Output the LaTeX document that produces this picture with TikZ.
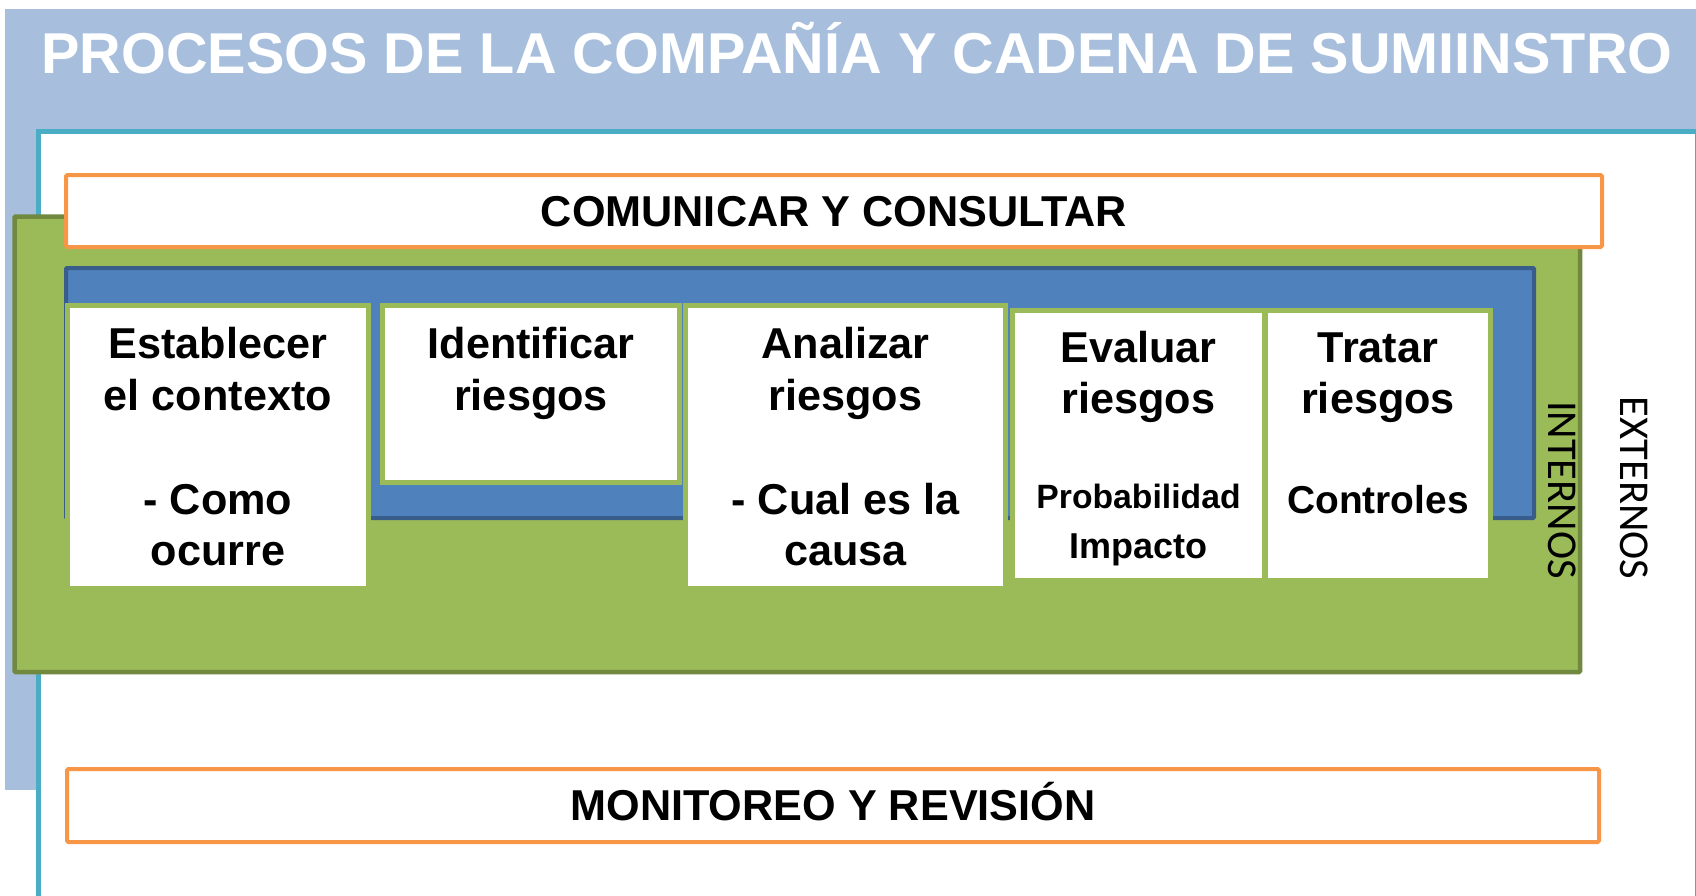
\documentclass[tikz,border=0pt]{standalone}
\usepackage{fontspec}
\setmainfont{Liberation Sans}
\newfontfamily\carlitofont{Carlito}
\definecolor{lightbg}{HTML}{A7BFDD}
\definecolor{tealline}{HTML}{4BACC6}
\definecolor{grfill}{HTML}{9BBB59}
\definecolor{grdark}{HTML}{71893F}
\definecolor{blfill}{HTML}{4F81BD}
\definecolor{bldark}{HTML}{385D8A}
\definecolor{orline}{HTML}{F79646}
\begin{document}
\begin{tikzpicture}[x=1pt,y=-1pt,
  big/.style={anchor=base, inner sep=0pt, font=\bfseries\fontsize{43.2}{50}\selectfont},
  mid/.style={anchor=base, inner sep=0pt, font=\bfseries\fontsize{38.9}{45}\selectfont},
  small/.style={anchor=base, inner sep=0pt, font=\bfseries\fontsize{33.7}{40}\selectfont},
  vert/.style={anchor=center, inner sep=0pt, rotate=-90, font=\carlitofont\fontsize{42.5}{50}\selectfont},
  orbox/.style={draw=orline, line width=4pt, fill=white, rounded corners=1.5pt},
  wbox/.style={draw=grfill, line width=5pt, fill=white}]
\useasboundingbox (0,0) rectangle (1696,895);
\clip (0,0) rectangle (1696,895);
% outer light blue band
\fill[lightbg] (5,9) rectangle (1700,790);
\node[anchor=base, inner sep=0pt, text=white, font=\bfseries\fontsize{57.6}{70}\selectfont] (title) at (857,73.3) {PROCESOS DE LA COMPAÑÍA Y CADENA DE SUMIINSTRO};
% teal framed white area
\draw[tealline, line width=4.5pt, fill=white] (38.5,131.5) rectangle (1697,910);
% green area
\draw[grdark, line width=4.5pt, fill=grfill, rounded corners=1pt] (14.5,216.5) rectangle (1580,672);
% communicate box
\draw[orbox] (66,175) rectangle (1602,247);
\node[big] (comunicar) at (834,226) {COMUNICAR Y CONSULTAR};
% blue frame
\draw[bldark, line width=4pt, fill=blfill, rounded corners=1pt] (66,268) rectangle (1534,518);
% step boxes
\draw[wbox] (67,305.5) rectangle (368,588.5);
\draw[wbox] (382,305.5) rectangle (679,482.5);
\draw[wbox] (685.5,305.5) rectangle (1005.5,588.5);
\draw[wbox] (1012,310) rectangle (1490.5,580.5);
\draw[grfill, line width=6pt] (1265,310) -- (1265,580.5);
% box texts
\node[big] (e1) at (218,358) {Establecer};
\node[big] (e2) at (218,410) {el contexto};
\node[big] (e3) at (218,514) {- Como};
\node[big] (e4) at (218,565) {ocurre};
\node[big] (i1) at (531,358) {Identificar};
\node[big] (i2) at (531,410) {riesgos};
\node[big] (a1) at (845.5,358) {Analizar};
\node[big] (a2) at (845.5,410) {riesgos};
\node[big] (a3) at (845.5,514) {- Cual es la};
\node[big] (a4) at (845.5,565) {causa};
\node[big] (v1) at (1138.5,362) {Evaluar};
\node[big] (v2) at (1138.5,413) {riesgos};
\node[small] (v3) at (1138.5,508) {Probabilidad};
\node[anchor=base, inner sep=0pt, font=\bfseries\fontsize{36}{42}\selectfont] (v4) at (1138.5,558) {Impacto};
\node[big] (t1) at (1378,362) {Tratar};
\node[big] (t2) at (1378,413) {riesgos};
\node[mid] (t3) at (1378,513) {Controles};
% internal / external labels
\node[vert] (internos) at (1562,490) {INTERNOS};
\node[vert] (externos) at (1634,488) {EXTERNOS};
% monitoring box
\draw[orbox] (67,769) rectangle (1599,842);
\node[big] (monitoreo) at (833,820.5) {MONITOREO Y REVISIÓN};
\end{tikzpicture}
\end{document}
